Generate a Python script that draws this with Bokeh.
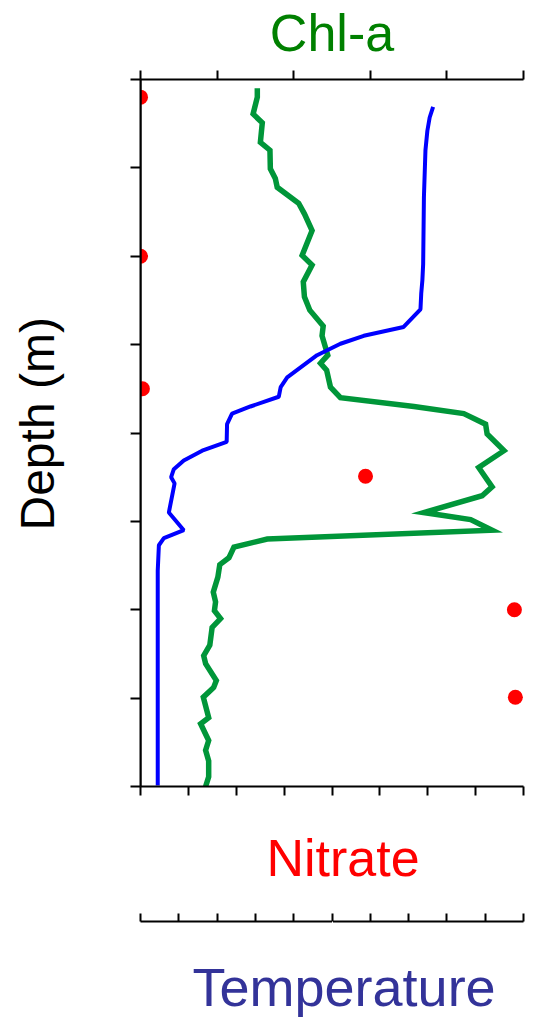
from bokeh.plotting import figure
from bokeh.models import Range1d, LinearAxis, FixedTicker, Arrow, Title
from bokeh.embed import file_html
from bokeh.resources import INLINE

# Depth (m) and chlorophyll-a profile
chl_depth = [1.0, 2.0, 3.9, 4.9, 7.1, 8.0, 10.1, 11.2, 12.2, 14.0, 15.2, 17.1, 19.9, 21.0,
             22.9, 24.6, 26.1, 27.9, 29.0, 31.2, 32.1, 32.9, 34.8, 36.0, 37.0, 37.8, 39.0,
             40.1, 42.0, 43.9, 46.1, 47.1, 49.0, 49.8, 51.0, 52.0, 52.9, 54.1, 54.9, 56.3,
             58.0, 59.1, 60.1, 61.0, 62.0, 64.0, 65.2, 66.1, 68.0, 68.8, 69.9, 72.2, 72.9,
             74.8, 75.9, 77.1, 78.9, 80.0]
chl_value = [0.305, 0.305, 0.294, 0.318, 0.313, 0.338, 0.339, 0.352, 0.357, 0.413, 0.428,
             0.448, 0.422, 0.448, 0.425, 0.428, 0.442, 0.477, 0.474, 0.489, 0.470, 0.486,
             0.496, 0.522, 0.714, 0.844, 0.901, 0.905, 0.949, 0.883, 0.918, 0.892, 0.740,
             0.862, 0.918, 0.331, 0.244, 0.231, 0.207, 0.202, 0.190, 0.196, 0.193, 0.209,
             0.187, 0.181, 0.165, 0.170, 0.198, 0.191, 0.164, 0.178, 0.157, 0.178, 0.170,
             0.178, 0.178, 0.170]

# Temperature profile (deg C)
temp_depth = [3.1, 4.3, 5.8, 8.0, 13.3, 20.9, 22.7, 24.2, 26.0, 28.0, 29.0, 29.9, 31.2,
              33.7, 34.8, 35.9, 37.0, 37.8, 39.0, 41.0, 42.0, 43.1, 44.1, 45.0, 45.7, 49.0,
              51.0, 51.9, 52.7, 55.6, 79.9]
temp_value = [25.64, 25.55, 25.49, 25.44, 25.40, 25.38, 25.36, 25.33, 25.31, 24.87, 23.83,
              23.22, 22.61, 21.83, 21.66, 21.61, 20.87, 20.39, 20.26, 20.25, 19.61, 19.13,
              18.87, 18.80, 18.89, 18.74, 19.13, 18.61, 18.48, 18.45, 18.45]

# Discrete nitrate samples
nitrate_depth = [2.0, 20.0, 35.0, 44.9, 60.0, 69.9]
nitrate_value = [0.0, 0.0, 0.04, 4.70, 7.81, 7.83]

depth_ticks = [0, 10, 20, 30, 40, 50, 60, 70, 80]
chl_ticks = [0.0, 0.2, 0.4, 0.6, 0.8, 1.0]
nitrate_ticks = [0, 1, 2, 3, 4, 5, 6, 7, 8]
temp_ticks = [18, 19, 20, 21, 22, 23, 24, 25, 26, 27, 28]

FONT = "Liberation Sans"

p = figure(width=534, height=1020, output_backend="svg", toolbar_location=None,
           x_range=Range1d(0, 8), y_range=Range1d(80, 0),
           x_axis_location=None, y_axis_location=None,
           min_border_left=140, min_border_right=11, min_border_top=79,
           min_border_bottom=234)
p.extra_x_ranges = {"chl": Range1d(0, 1), "temp": Range1d(18, 28)}
p.outline_line_color = None
p.xgrid.visible = False
p.ygrid.visible = False
p.background_fill_color = "white"
p.border_fill_color = "white"


def style_axis(ax, tick_in, tick_out):
    ax.axis_line_color = "black"
    ax.axis_line_width = 2
    ax.major_tick_line_color = "black"
    ax.major_tick_line_width = 2
    ax.major_tick_in = tick_in
    ax.major_tick_out = tick_out
    ax.minor_tick_line_color = None
    # tick marks only, no numbers
    ax.major_label_text_color = None
    ax.major_label_text_font_size = "1px"
    ax.major_label_standoff = 0
    ax.axis_label_text_font = FONT
    ax.axis_label_text_font_style = "normal"


def spacer(width, tick):
    # empty band that keeps a title clear of the axis next to it
    ax = LinearAxis(ticker=FixedTicker(ticks=[tick]))
    ax.axis_line_color = None
    ax.major_tick_line_color = "white"
    ax.minor_tick_line_color = None
    ax.major_tick_in = 0
    ax.major_tick_out = width
    ax.major_label_text_color = None
    ax.major_label_text_font_size = "1px"
    ax.major_label_standoff = 0
    return ax


def side_title(text, size, color, offset, valign, standoff=0):
    return Title(text=text, align="left", offset=offset, vertical_align=valign,
                 standoff=standoff, text_font=FONT, text_font_style="normal",
                 text_font_size=size, text_color=color)


# Depth axis
yax = LinearAxis(ticker=FixedTicker(ticks=depth_ticks))
style_axis(yax, 0, 10)
p.add_layout(yax, "left")
p.add_layout(spacer(67, 40), "left")
p.add_layout(side_title("Depth (m)", "48px", "black", 256, "bottom"), "left")

# Chl-a axis on top
cax = LinearAxis(x_range_name="chl", ticker=FixedTicker(ticks=chl_ticks), axis_label="Chl-a")
style_axis(cax, 0, 9)
cax.axis_label_text_font_size = "52px"
cax.axis_label_text_color = "#008000"
cax.axis_label_standoff = 9
p.add_layout(cax, "above")

# Nitrate axis, with its name set underneath
nax = LinearAxis(ticker=FixedTicker(ticks=nitrate_ticks))
style_axis(nax, 0, 9)
p.add_layout(nax, "below")
p.add_layout(side_title("Nitrate", "52px", "#FF0000", 126, "top", standoff=66), "below")

# Temperature axis
tax = LinearAxis(x_range_name="temp", ticker=FixedTicker(ticks=temp_ticks))
style_axis(tax, 8, 0)
p.add_layout(tax, "below")
p.add_layout(spacer(35, 4), "below")
p.add_layout(side_title("Temperature", "54px", "#333399", 52, "top"), "below")

# axis lines run a little past the corners
for xs, ys, xe, ye in [(0, -1.36, 0, 81.25), (-0.21, 0, 0, 0), (-0.21, 80, 0, 80)]:
    p.add_layout(Arrow(end=None, x_start=xs, y_start=ys, x_end=xe, y_end=ye,
                       line_color="black", line_width=2))

p.line(chl_value, chl_depth, x_range_name="chl", line_color="#009639", line_width=5.5,
       line_join="miter")
p.line(temp_value, temp_depth, x_range_name="temp", line_color="#0000FF", line_width=4)
p.scatter(nitrate_value, nitrate_depth, size=15, fill_color="#FF0000", line_color=None)

open("out.html", "w").write(file_html(p, INLINE))
